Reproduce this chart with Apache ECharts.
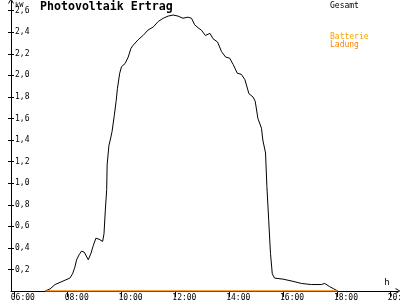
<!DOCTYPE html>
<html><head><meta charset="utf-8">
<script src="https://cdn.jsdelivr.net/npm/echarts@6/dist/echarts.min.js"></script>
<style>html,body{margin:0;padding:0;background:#fff}#c{width:400px;height:300px}</style>
</head><body><div id="c"></div>
<script>
const times = ['07:10','07:21','07:32','07:43','07:54','08:05','08:11','08:16','08:20','08:26','08:31','08:37','08:46','08:52','08:57','09:03','09:10','09:18','09:21','09:24','09:27','09:28','09:32','09:36','09:39','09:44','09:48','09:51','09:56','10:00','10:08','10:15','10:21','10:26','10:37','10:48','10:59','11:11','11:22','11:33','11:44','11:55','12:06','12:17','12:28','12:36','12:43','12:51','12:58','13:07','13:17','13:24','13:34','13:43','13:52','14:01','14:09','14:18','14:27','14:35','14:44','14:53','14:58','15:04','15:12','15:15','15:21','15:24','15:28','15:32','15:36','15:41','16:00','16:22','16:41','17:03','17:25','17:33','17:44','17:53','18:02'];
const gesamt = [0.00,0.02,0.06,0.08,0.10,0.12,0.16,0.22,0.29,0.34,0.37,0.36,0.29,0.35,0.42,0.49,0.48,0.46,0.53,0.75,0.94,1.17,1.35,1.42,1.48,1.63,1.76,1.88,2.02,2.08,2.11,2.17,2.25,2.28,2.33,2.37,2.42,2.45,2.50,2.53,2.55,2.56,2.55,2.53,2.54,2.53,2.47,2.44,2.42,2.37,2.39,2.34,2.31,2.22,2.17,2.16,2.10,2.02,2.01,1.96,1.83,1.80,1.76,1.60,1.51,1.40,1.28,0.97,0.66,0.35,0.16,0.12,0.11,0.09,0.07,0.06,0.06,0.07,0.04,0.02,0.00];
const ladungTimes = ['07:10','18:02'];
const ladung = [0, 0];
const xTicks = [6, 8, 10, 12, 14, 16, 18, 20];
const yTicks = [0.2, 0.4, 0.6, 0.8, 1.0, 1.2, 1.4, 1.6, 1.8, 2.0, 2.2, 2.4, 2.6];

function toH(t){ const p = t.split(':').map(Number); return p[0] + p[1]/60; }
const FONT = 'DejaVu Sans Mono';
const chevron = 'path://M0,5L3,0L6,5L5,5L3,1.6L1,5Z';
const X_MIN = 5.896, X_MAX = 20.27, Y_MIN = 0, Y_MAX = 2.69;

const chart = echarts.init(document.getElementById('c'), null, {renderer: 'canvas'});
chart.setOption({
  animation: false,
  backgroundColor: '#fff',
  title: {
    text: 'Photovoltaik Ertrag', left: 40, top: 1, padding: 0,
    textStyle: {fontFamily: FONT, fontSize: 11.6, fontWeight: 'bold', color: '#000'}
  },
  legend: [{
    data: [{name: 'Gesamt', textStyle: {color: '#000'}}],
    left: 325, top: 2, padding: 0, icon: 'none', itemWidth: 0, itemHeight: 8,
    selectedMode: false,
    textStyle: {fontFamily: FONT, fontSize: 8}
  }, {
    data: [{name: 'Batterie', textStyle: {color: '#f2a400'}}, {name: 'Ladung', textStyle: {color: '#ff8000'}}],
    orient: 'vertical', left: 325, top: 33, padding: 0, itemGap: 0, icon: 'none', itemWidth: 0, itemHeight: 8,
    selectedMode: false,
    textStyle: {fontFamily: FONT, fontSize: 8}
  }],
  grid: {left: 11, right: 2, top: 1, bottom: 9, containLabel: false, outerBoundsMode: 'none'},
  xAxis: [{
    type: 'value', min: X_MIN, max: X_MAX,
    name: 'h', nameLocation: 'end', nameGap: -11, nameMoveOverlap: false,
    nameTextStyle: {fontFamily: FONT, fontSize: 9, color: '#000', align: 'center', verticalAlign: 'bottom', padding: [0,0,4,0]},
    axisLine: {lineStyle: {color: '#000', width: 1}, symbol: ['none', chevron], symbolSize: [6, 5]},
    axisTick: {show: false},
    splitLine: {show: false},
    axisLabel: {
      customValues: xTicks, margin: 3, align: 'left', padding: [0,0,0,-3],
      hideOverlap: false,
      fontFamily: FONT, fontSize: 8, color: '#000',
      formatter: v => String(Math.round(v)).padStart(2, '0') + ':00'
    }
  }, {
    type: 'value', min: X_MIN, max: X_MAX, offset: 3,
    axisLine: {show: false},
    axisTick: {show: true, inside: true, length: 6, customValues: xTicks, lineStyle: {color: '#000'}},
    axisLabel: {show: false}, splitLine: {show: false}
  }],
  yAxis: [{
    type: 'value', min: Y_MIN, max: Y_MAX,
    name: 'kW', nameLocation: 'end', nameGap: -8, nameMoveOverlap: false,
    nameTextStyle: {fontFamily: FONT, fontSize: 7, color: '#000', align: 'left', verticalAlign: 'bottom', padding: [0,0,0,4]},
    axisLine: {lineStyle: {color: '#000', width: 1}, symbol: ['none', chevron], symbolSize: [6, 5]},
    axisTick: {show: false},
    splitLine: {show: false},
    axisLabel: {
      customValues: yTicks, inside: true, margin: 4,
      fontFamily: FONT, fontSize: 8, color: '#000',
      formatter: v => v.toFixed(1).replace('.', ',')
    }
  }, {
    type: 'value', min: Y_MIN, max: Y_MAX, position: 'left', offset: 3,
    axisLine: {show: false},
    axisTick: {show: true, inside: true, length: 6, customValues: yTicks, lineStyle: {color: '#000'}},
    axisLabel: {show: false}, splitLine: {show: false}
  }],
  series: [{
    name: 'Gesamt', type: 'line', xAxisIndex: 0, yAxisIndex: 0,
    data: times.map((t, i) => [toH(t), gesamt[i]]),
    showSymbol: false, symbol: 'none', color: '#000',
    lineStyle: {color: '#000', width: 1}
  }, {
    name: 'Batterie', type: 'line', data: [], showSymbol: false, color: '#f2a400'
  }, {
    name: 'Ladung', type: 'line', xAxisIndex: 0, yAxisIndex: 0,
    data: ladungTimes.map((t, i) => [toH(t), ladung[i]]),
    showSymbol: false, symbol: 'none', color: '#ff8000',
    lineStyle: {color: '#ff8000', width: 1.5}
  }]
});
</script>
</body></html>
